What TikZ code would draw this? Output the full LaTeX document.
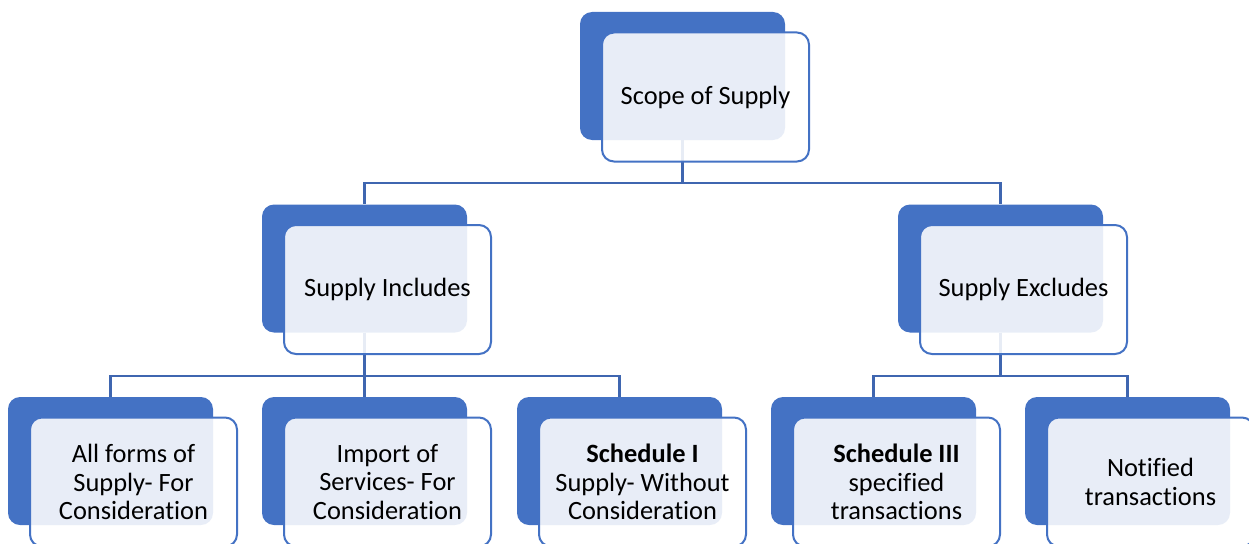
\documentclass[tikz,border=0pt]{standalone}
\usepackage{fontspec}
\setmainfont{Carlito}[Ligatures={NoCommon}]
\usetikzlibrary{positioning}
\pgfdeclarelayer{background}
\pgfsetlayers{background,main}
\definecolor{boxblue}{HTML}{4472C4}
\definecolor{linkblue}{HTML}{3F66B0}

\tikzset{
  backbox/.style={fill=boxblue, rounded corners=12pt, minimum width=205pt, minimum height=128pt, inner sep=0pt},
  frontbox/.style={draw=boxblue, line width=2pt, fill=white, fill opacity=0.88, text opacity=1,
    rounded corners=12pt, minimum width=207pt, minimum height=129pt, inner sep=0pt, align=center,
    xshift=23pt, yshift=-21pt, font=\fontsize{26.4}{28.5}\selectfont},
  link/.style={draw=linkblue, line width=2.4pt}
}

\begin{document}
\begin{tikzpicture}[x=1pt,y=-1pt]
    \path[use as bounding box, clip] (0,0) rectangle (1249,543);

    % Top level
    \node[backbox] (scopeB) at (682.5,76) {};
    \node[frontbox] (scope) at (scopeB) {Scope of Supply};

    % Second level
    \node[backbox] (inclB) at (364.5,268.5) {};
    \node[frontbox] (incl) at (inclB) {Supply Includes};
    \node[backbox] (exclB) at (1000.5,268.5) {};
    \node[frontbox] (excl) at (exclB) {Supply Excludes};

    % Third level
    \node[backbox] (consB) at (110.5,461) {};
    \node[frontbox] (cons) at (consB) {All forms of\\Supply- For\\Consideration};
    \node[backbox] (importB) at (364.5,461) {};
    \node[frontbox] (import) at (importB) {Import of\\Services- For\\Consideration};
    \node[backbox] (schedOneB) at (619.5,461) {};
    \node[frontbox] (schedOne) at (schedOneB) {\textbf{Schedule I}\\Supply- Without\\Consideration};
    \node[backbox] (schedThreeB) at (873.5,461) {};
    \node[frontbox] (schedThree) at (schedThreeB) {\textbf{Schedule III}\\specified\\transactions};
    \node[backbox] (notifB) at (1127.5,461) {};
    \node[frontbox] (notif) at (notifB) {Notified\\transactions};

    % Connectors
    \coordinate (busTop) at (0,183);
    \coordinate (busIncl) at (0,376);
    \coordinate (busExcl) at (0,376);
    \begin{pgfonlayer}{background}
      \draw[link] (scopeB.south) -- (scopeB.south |- busTop) -| (inclB.north);
      \draw[link] (scopeB.south |- busTop) -| (exclB.north);

      \draw[link] (inclB.south) -- (inclB.south |- busIncl) -| (consB.north);
      \draw[link] (inclB.south |- busIncl) -- (importB.north);
      \draw[link] (inclB.south |- busIncl) -| (schedOneB.north);

      \draw[link] (exclB.south) -- (exclB.south |- busExcl) -| (schedThreeB.north);
      \draw[link] (exclB.south |- busExcl) -| (notifB.north);
    \end{pgfonlayer}
\end{tikzpicture}
\end{document}
